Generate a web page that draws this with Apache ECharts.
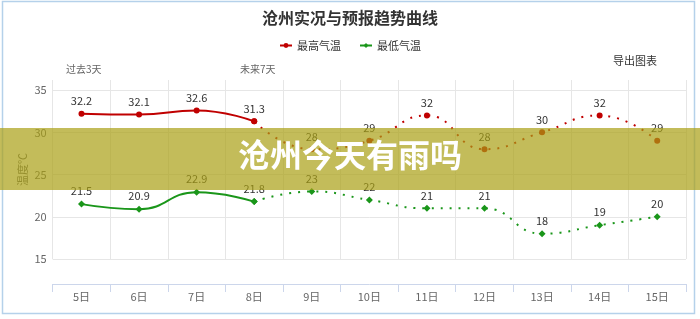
<!DOCTYPE html>
<html>
<head>
<meta charset="utf-8">
<script src="https://cdn.jsdelivr.net/npm/echarts@6/dist/echarts.min.js"></script>
<style>
    html, body { margin: 0; padding: 0; background: #fff; }
    #main { width: 700px; height: 319px; }
</style>
</head>
<body>
<div id="main"></div>
<script>
    // 日期
    var days = ['5日', '6日', '7日', '8日', '9日', '10日', '11日', '12日', '13日', '14日', '15日'];
    // 实况（过去3天 + 今天）
    var highPast = [32.2, 32.1, 32.6, 31.3];
    var lowPast = [21.5, 20.9, 22.9, 21.8];
    // 预报（未来7天）
    var highFuture = [28, 29, 32, 28, 30, 32, 29];
    var lowFuture = [23, 22, 21, 21, 18, 19, 20];
    var yTicks = [15, 20, 25, 30, 35];

    var font = "'Microsoft YaHei','Noto Sans CJK SC',sans-serif";
    var red = '#c00000', green = '#1a961a';

    // 实线部分只到8日，虚线从8日接着画
    function pastData(arr) {
        return arr.concat(days.slice(arr.length).map(function () { return '-'; }));
    }
    function futureData(past, fut) {
        var out = days.slice(0, past.length - 1).map(function () { return '-'; });
        out.push({value: past[past.length - 1], label: {show: false}});
        return out.concat(fut);
    }

    var myChart = echarts.init(document.getElementById('main'));
    var labelStyle = {show: true, position: 'top', distance: 4, color: '#333', fontSize: 11, fontFamily: font};

    var option = {
        animation: false,
        textStyle: {fontFamily: font},
        title: {
            text: '沧州实况与预报趋势曲线',
            left: 'center',
            top: 5,
            textStyle: {fontSize: 16, fontWeight: 'bold', color: '#333', fontFamily: font}
        },
        legend: {
            top: 35,
            left: 'center',
            itemGap: 18,
            itemWidth: 12,
            itemHeight: 6,
            textStyle: {fontSize: 11, color: '#333', fontFamily: font},
            data: ['最高气温', '最低气温']
        },
        grid: {left: 52.7, right: 14, top: 80, bottom: 60},
        xAxis: {
            type: 'category',
            data: days,
            boundaryGap: true,
            offset: 25,
            axisLine: {lineStyle: {color: '#ccd6eb'}},
            axisTick: {show: true, length: 8, lineStyle: {color: '#ccd6eb'}},
            axisLabel: {color: '#666', fontSize: 11, margin: 7, fontFamily: font},
            splitLine: {show: true, lineStyle: {color: '#e6e6e6'}}
        },
        yAxis: {
            type: 'value',
            min: yTicks[0],
            max: 36.2,
            interval: 5,
            name: '温度℃',
            nameLocation: 'middle',
            nameGap: 24,
            nameMoveOverlap: false,
            nameTextStyle: {color: '#666', fontSize: 11, fontFamily: font},
            axisLine: {show: false},
            axisTick: {show: false},
            axisLabel: {color: '#666', fontSize: 11, margin: 6, showMaxLabel: false, fontFamily: font},
            splitLine: {lineStyle: {color: ['#e6e6e6', '#e6e6e6', '#e6e6e6', '#e6e6e6', '#e6e6e6', 'transparent']}}
        },
        series: [
            {
                name: '最高气温', type: 'line', smooth: true,
                data: pastData(highPast),
                symbol: 'circle', symbolSize: 6,
                itemStyle: {color: red},
                lineStyle: {color: red, width: 2},
                label: labelStyle
            },
            {
                name: '最高气温', type: 'line', smooth: true,
                data: futureData(highPast, highFuture),
                symbol: 'circle', symbolSize: 6,
                itemStyle: {color: red},
                lineStyle: {color: red, width: 2, type: [2, 7]},
                label: labelStyle
            },
            {
                name: '最低气温', type: 'line', smooth: true,
                data: pastData(lowPast),
                symbol: 'diamond', symbolSize: 7,
                itemStyle: {color: green},
                lineStyle: {color: green, width: 2},
                label: labelStyle
            },
            {
                name: '最低气温', type: 'line', smooth: true,
                data: futureData(lowPast, lowFuture),
                symbol: 'diamond', symbolSize: 7,
                itemStyle: {color: green},
                lineStyle: {color: green, width: 2, type: [2, 7]},
                label: labelStyle
            }
        ],
        graphic: [
            {
                type: 'rect', z: 0, silent: true,
                shape: {x: 2.5, y: 1.5, width: 692, height: 312},
                style: {fill: 'none', stroke: '#b5d1ea', lineWidth: 1.5}
            },
            {
                type: 'text', left: 66, top: 64,
                style: {text: '过去3天', fill: '#666', fontSize: 10, fontFamily: font}
            },
            {
                type: 'text', left: 240, top: 64,
                style: {text: '未来7天', fill: '#666', fontSize: 10, fontFamily: font}
            },
            {
                type: 'text', left: 613, top: 55,
                style: {text: '导出图表', fill: '#333', fontSize: 11, fontFamily: font}
            },
            // 半透明横幅
            {
                type: 'rect', z: 100, silent: true,
                shape: {x: 0, y: 128, width: 700, height: 62},
                style: {fill: 'rgba(170,160,20,0.7)'}
            },
            {
                type: 'text', z: 101, left: 'center', top: 139,
                style: {text: '沧州今天有雨吗', fill: '#fff', fontSize: 32, fontWeight: 'bold', fontFamily: "'Noto Sans CJK SC',sans-serif"}
            }
        ]
    };
    myChart.setOption(option);
</script>
</body>
</html>
